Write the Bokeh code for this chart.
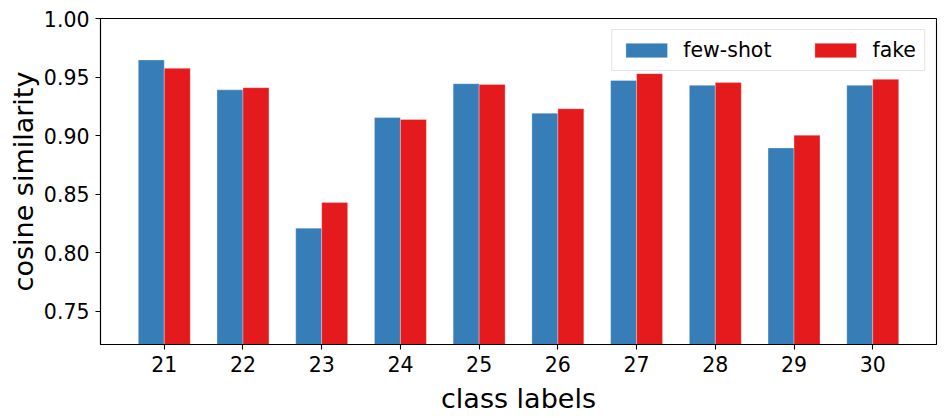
from bokeh.plotting import figure
from bokeh.models import (ColumnDataSource, Range1d, FixedTicker, Legend, LegendItem,
                          CustomJSTickFormatter)
from bokeh.transform import dodge
from bokeh.embed import file_html
from bokeh.resources import INLINE

classes = [21, 22, 23, 24, 25, 26, 27, 28, 29, 30]
few_shot = [0.9646, 0.9391, 0.8209, 0.9154, 0.9443, 0.9191, 0.9471, 0.9429, 0.8894, 0.9429]
fake = [0.9574, 0.9409, 0.8429, 0.9137, 0.9437, 0.9229, 0.9529, 0.9454, 0.9003, 0.9480]
y_ticks = [0.75, 0.80, 0.85, 0.90, 0.95, 1.00]

BLUE = "#377eb8"
RED = "#e41a1c"
FONT = "DejaVu Sans"

src = ColumnDataSource(dict(cls=classes, few=few_shot, fake=fake))

p = figure(frame_width=836, frame_height=326,
           x_range=Range1d(20.19, 30.81), y_range=Range1d(0.7215, 1.0),
           output_backend="svg", toolbar_location=None,
           min_border_left=100, min_border_right=15, min_border_top=18, min_border_bottom=73)

r1 = p.vbar(x=dodge("cls", -0.165, range=p.x_range), top="few", bottom=0.7, width=0.33,
            source=src, fill_color=BLUE, line_color="white", line_width=0.6, line_alpha=0.5)
r2 = p.vbar(x=dodge("cls", 0.165, range=p.x_range), top="fake", bottom=0.7, width=0.33,
            source=src, fill_color=RED, line_color="white", line_width=0.6, line_alpha=0.5)

p.xgrid.visible = False
p.ygrid.visible = False
p.outline_line_color = "black"
p.outline_line_width = 1.1
p.outline_line_alpha = 1.0

for ax in (p.xaxis[0], p.yaxis[0]):
    ax.major_label_text_font = FONT
    ax.major_label_text_font_size = "20.5px"
    ax.major_label_text_color = "black"
    ax.axis_label_text_font = FONT
    ax.axis_label_text_font_size = "27px"
    ax.axis_label_text_font_style = "normal"
    ax.axis_label_text_color = "black"
    ax.axis_line_color = "black"
    ax.axis_line_width = 1.1
    ax.major_tick_line_color = "black"
    ax.major_tick_line_width = 1.1
    ax.major_tick_out = 5
    ax.major_tick_in = 0
    ax.minor_tick_line_color = None

p.xaxis.ticker = FixedTicker(ticks=classes)
p.yaxis.ticker = FixedTicker(ticks=y_ticks)
p.yaxis.formatter = CustomJSTickFormatter(code="return tick.toFixed(2);")
p.xaxis.axis_label = "class labels"
p.yaxis.axis_label = "cosine similarity"
p.xaxis.major_label_standoff = 6
p.yaxis.major_label_standoff = 6
p.xaxis.axis_label_standoff = 8
p.yaxis.axis_label_standoff = 2

legend = Legend(items=[LegendItem(label="few-shot", renderers=[r1]),
                       LegendItem(label="fake", renderers=[r2])],
                location="top_right", orientation="horizontal",
                margin=11, padding=8, spacing=38, label_standoff=11,
                glyph_width=52, glyph_height=18, label_height=21,
                label_text_font=FONT, label_text_font_size="20.5px",
                label_text_color="black",
                border_line_color="#cccccc", border_line_width=1.2,
                background_fill_alpha=0.8)
p.add_layout(legend, "center")

open("out.html", "w").write(file_html(p, INLINE))
